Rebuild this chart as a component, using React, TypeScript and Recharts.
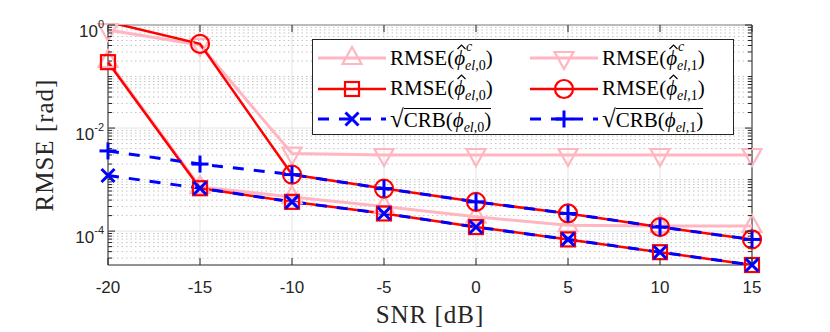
import { LineChart, Line, XAxis, YAxis, CartesianGrid, ReferenceLine, ReferenceArea, ReferenceDot } from 'recharts'
import type { ReactNode } from 'react'

// SNR sweep and the RMSE / CRB curves (rad)
const snr = [-20, -15, -10, -5, 0, 5, 10, 15]
const rmseC0 = [0.2, 7.2e-4, 4.6e-4, 3.0e-4, 1.9e-4, 1.3e-4, 1.25e-4, 1.25e-4]
const rmseC1 = [0.8, 0.41, 3.2e-3, 3.0e-3, 3.0e-3, 3.0e-3, 3.0e-3, 3.0e-3]
const rmse0 = [0.19, 6.8e-4, 3.7e-4, 2.2e-4, 1.2e-4, 6.9e-5, 3.9e-5, 2.2e-5]
const rmse1 = [1.15, 0.43, 1.25e-3, 6.7e-4, 3.7e-4, 2.2e-4, 1.2e-4, 6.9e-5]
const crb0 = [1.2e-3, 6.8e-4, 3.7e-4, 2.2e-4, 1.2e-4, 6.9e-5, 3.9e-5, 2.2e-5]
const crb1 = [3.6e-3, 2.0e-3, 1.25e-3, 6.7e-4, 3.7e-4, 2.2e-4, 1.2e-4, 6.9e-5]

const xTicks = [-20, -15, -10, -5, 0, 5, 10, 15]
const yDomain = [2.2e-5, 1]
const yMajor = [1e-4, 1e-2, 1]
const yDecades = [-5, -4, -3, -2, -1]

const yMinor: number[] = []
for (const d of yDecades) {
  for (let m = 1; m <= 9; m++) {
    const v = m * Math.pow(10, d)
    if (v >= yDomain[0] && v <= yDomain[1] && !yMajor.some(t => Math.abs(t - v) < 1e-12)) yMinor.push(v)
  }
}
const yTicks = [...yMinor, ...yMajor].sort((a, b) => a - b)

const data = snr.map((s, i) => ({
  snr: s,
  rmseC0: rmseC0[i],
  rmseC1: rmseC1[i],
  rmse0: rmse0[i],
  rmse1: rmse1[i],
  crb0: crb0[i],
  crb1: crb1[i],
}))

const PINK = '#FFB6C1'
const RED = '#FF0000'
const BLUE = '#0000FF'
const AXIS = '#262626'
const PLOT = { left: 108, top: 25, right: 752, bottom: 265 }
const SANS = '"Liberation Sans", Arial, sans-serif'
const SERIF = '"Liberation Serif", "Times New Roman", serif'

type Kind = 'tri' | 'itri' | 'square' | 'circle' | 'x' | 'plus'

const series: { key: string; values: number[]; color: string; kind: Kind; dashed: boolean; width: number }[] = [
  { key: 'rmseC0', values: rmseC0, color: PINK, kind: 'tri', dashed: false, width: 3 },
  { key: 'rmseC1', values: rmseC1, color: PINK, kind: 'itri', dashed: false, width: 3 },
  { key: 'rmse0', values: rmse0, color: RED, kind: 'square', dashed: false, width: 2.5 },
  { key: 'rmse1', values: rmse1, color: RED, kind: 'circle', dashed: false, width: 2.5 },
  { key: 'crb0', values: crb0, color: BLUE, kind: 'x', dashed: true, width: 3 },
  { key: 'crb1', values: crb1, color: BLUE, kind: 'plus', dashed: true, width: 3 },
]

function MarkerShape({ kind, color, cx, cy }: { kind: Kind; color: string; cx: number; cy: number }) {
  switch (kind) {
    case 'tri':
      return <polygon points={`${cx},${cy - 11} ${cx - 9.5},${cy + 6} ${cx + 9.5},${cy + 6}`} fill="none" stroke={color} strokeWidth={2.2} />
    case 'itri':
      return <polygon points={`${cx},${cy + 11} ${cx - 9.5},${cy - 6} ${cx + 9.5},${cy - 6}`} fill="none" stroke={color} strokeWidth={2.2} />
    case 'square':
      return <rect x={cx - 7} y={cy - 7} width={14} height={14} fill="none" stroke={color} strokeWidth={2.2} />
    case 'circle':
      return <circle cx={cx} cy={cy} r={9} fill="none" stroke={color} strokeWidth={2.2} />
    case 'x':
      return (
        <g stroke={color} strokeWidth={3}>
          <line x1={cx - 6.5} y1={cy - 6.5} x2={cx + 6.5} y2={cy + 6.5} />
          <line x1={cx - 6.5} y1={cy + 6.5} x2={cx + 6.5} y2={cy - 6.5} />
        </g>
      )
    default:
      return (
        <g stroke={color} strokeWidth={3}>
          <line x1={cx - 8.5} y1={cy} x2={cx + 8.5} y2={cy} />
          <line x1={cx} y1={cy - 8.5} x2={cx} y2={cy + 8.5} />
        </g>
      )
  }
}

function XTick(props: any) {
  const x = props.payload?.coordinate ?? props.x
  return (
    <g>
      <line x1={x} x2={x} y1={PLOT.bottom} y2={PLOT.bottom - 7} stroke={AXIS} />
      <line x1={x} x2={x} y1={PLOT.top} y2={PLOT.top + 7} stroke={AXIS} />
      <text x={x} y={PLOT.bottom + 28} textAnchor="middle" fontSize={17} fontFamily={SANS} fill={AXIS}>
        {props.payload.value}
      </text>
    </g>
  )
}

function YTick(props: any) {
  const y = props.payload?.coordinate ?? props.y
  const v = props.payload.value
  const major = yMajor.some(t => Math.abs(t - v) < 1e-12)
  const len = major ? 7 : 4
  const exp = Math.round(Math.log10(v))
  return (
    <g>
      <line x1={PLOT.left} x2={PLOT.left + len} y1={y} y2={y} stroke={AXIS} />
      <line x1={PLOT.right} x2={PLOT.right - len} y1={y} y2={y} stroke={AXIS} />
      {major && (
        <text x={PLOT.left - 4} y={y + 12} textAnchor="end" fontSize={17} fontFamily={SANS} fill={AXIS}>
          10<tspan dy={-9} fontSize={11}>{exp}</tspan>
        </text>
      )}
    </g>
  )
}

function Phi({ hat, sup, idx }: { hat?: boolean; sup?: string; idx: string }) {
  return (
    <>
      <span style={{ position: 'relative', fontStyle: 'italic' }}>
        ϕ
        {hat && (
          <svg width={9} height={6} style={{ position: 'absolute', left: 3, top: -2 }}>
            <polyline points="0.5,5 4.5,1 8.5,5" fill="none" stroke="#000" strokeWidth={1.2} />
          </svg>
        )}
        {sup && (
          <span style={{ position: 'absolute', left: '100%', top: -7, fontSize: 14, marginLeft: 1 }}>{sup}</span>
        )}
      </span>
      <span style={{ fontSize: 14, position: 'relative', top: 5 }}>
        <i>el</i>,{idx}
      </span>
    </>
  )
}

const rmseLabel = (sup: string | undefined, idx: string) => (
  <span>
    RMSE(<Phi hat sup={sup} idx={idx} />)
  </span>
)

const crbLabel = (idx: string) => (
  <span style={{ display: 'inline-flex', alignItems: 'flex-start' }}>
    <span style={{ fontSize: 25, lineHeight: '27px' }}>√</span>
    <span style={{ borderTop: '1.3px solid black', paddingTop: 0, lineHeight: '23px', marginTop: 3 }}>
      CRB(<Phi idx={idx} />)
    </span>
  </span>
)

const legendLabels: ReactNode[] = [
  rmseLabel('c', '0'),
  rmseLabel('c', '1'),
  rmseLabel(undefined, '0'),
  rmseLabel(undefined, '1'),
  crbLabel('0'),
  crbLabel('1'),
]

function ChartLegend() {
  return (
    <div
      style={{
        position: 'absolute',
        left: 312,
        top: 39,
        width: 422,
        height: 96,
        boxSizing: 'border-box',
        border: `1px solid ${AXIS}`,
        background: '#fff',
        fontFamily: SERIF,
        fontSize: 21,
        color: '#000',
      }}
    >
      {series.map((s, i) => {
        const row = Math.floor(i / 2)
        const col = i % 2
        const top = 18 + row * 30.5 - 15
        const left = col === 0 ? 5 : 217
        return (
          <div key={s.key} style={{ position: 'absolute', top, left, height: 30, display: 'flex', alignItems: 'center', whiteSpace: 'nowrap' }}>
            <svg width={68} height={30} style={{ flex: 'none' }}>
              <line x1={0} x2={68} y1={15} y2={15} stroke={s.color} strokeWidth={s.width} strokeDasharray={s.dashed ? '11 10' : undefined} />
              <MarkerShape kind={s.kind} color={s.color} cx={34} cy={15} />
            </svg>
            <span style={{ marginLeft: 4 }}>{legendLabels[i]}</span>
          </div>
        )
      })}
    </div>
  )
}

export default function App() {
  return (
    <div style={{ position: 'absolute', left: 0, top: 0, width: 830, height: 332, background: '#fff' }}>
      <LineChart width={830} height={332} data={data} margin={{ top: 25, right: 78, left: 48, bottom: 27 }}>
        <CartesianGrid horizontal={false} stroke="#e3e3e3" strokeWidth={1} />
        {yMinor.map(v => (
          <ReferenceLine key={`m${v}`} y={v} stroke="#c4c4c4" strokeDasharray="1.5 3" strokeWidth={1} />
        ))}
        {yMajor.map(v => (
          <ReferenceLine key={`M${v}`} y={v} stroke="#e3e3e3" strokeWidth={1} />
        ))}
        <ReferenceArea x1={-20} x2={15} y1={yDomain[0]} y2={yDomain[1]} fill="none" stroke={AXIS} strokeWidth={1} fillOpacity={0} />
        <XAxis
          dataKey="snr"
          type="number"
          domain={[-20, 15]}
          ticks={xTicks}
          interval={0}
          tick={<XTick />}
          tickLine={false}
          axisLine={false}
          height={40}
        />
        <YAxis
          scale="log"
          type="number"
          domain={yDomain}
          allowDataOverflow
          ticks={yTicks}
          interval={0}
          tick={<YTick />}
          tickLine={false}
          axisLine={false}
          width={60}
        />
        {series.map(s => (
          <Line
            key={s.key}
            dataKey={s.key}
            type="linear"
            stroke={s.color}
            strokeWidth={s.width}
            strokeDasharray={s.dashed ? '11 10' : undefined}
            dot={false}
            activeDot={false}
            isAnimationActive={false}
          />
        ))}
        {/* markers: points outside the axes are discarded, the rest are not clipped */}
        {series.map(s =>
          s.values.map((v, i) => (
            <ReferenceDot
              key={`${s.key}-${i}`}
              x={snr[i]}
              y={v}
              ifOverflow="discard"
              shape={(p: any) => <MarkerShape kind={s.kind} color={s.color} cx={p.cx} cy={p.cy} />}
            />
          ))
        )}
      </LineChart>
      <ChartLegend />
      <div
        style={{
          position: 'absolute',
          left: 0,
          width: 860,
          top: 301,
          textAlign: 'center',
          fontFamily: SERIF,
          fontSize: 25,
          letterSpacing: 1,
          color: AXIS,
        }}
      >
        SNR [dB]
      </div>
      <div
        style={{
          position: 'absolute',
          left: 45,
          top: 145,
          transform: 'translate(-50%, -50%) rotate(-90deg)',
          whiteSpace: 'nowrap',
          fontFamily: SERIF,
          fontSize: 25,
          letterSpacing: 1,
          color: AXIS,
        }}
      >
        RMSE [rad]
      </div>
    </div>
  )
}
